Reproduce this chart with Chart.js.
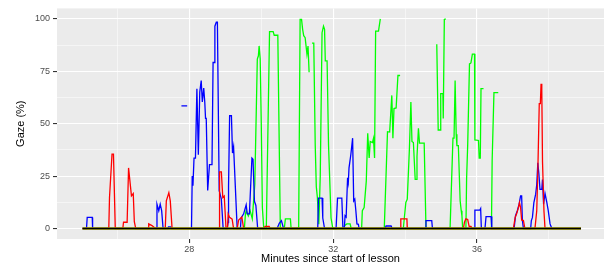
<!DOCTYPE html>
<html>
<head>
<meta charset="utf-8">
<script src="https://cdn.jsdelivr.net/npm/chart.js@4/dist/chart.umd.min.js"></script>
<style>
  body { margin: 0; background: #fff; }
</style>
</head>
<body>
<canvas id="gazechart" width="604" height="269"></canvas>
<script>
// minutes / gaze % pairs, null = gap in the line
const redGaze = [
  [25.03, 0], [25.76, 0], [25.78, 14.8], [25.85, 35.5], [25.89, 35.5], [25.94, 0],
  [26.15, 0], [26.17, 3], [26.27, 3], [26.31, 28.9], [26.39, 15.6], [26.44, 16.7], [26.47, 3.3], [26.51, 0],
  [26.86, 0], [26.87, 2.2], [26.96, 1.4], [27.06, 0],
  [27.33, 0], [27.36, 13.2], [27.43, 17.1], [27.47, 13.2], [27.52, 0],
  [28.83, 0], [28.84, 27], [28.89, 27], [28.93, 14.8], [28.97, 15.5], [29.02, 0],
  [29.06, 0], [29.08, 6.9], [29.12, 5.3], [29.19, 4.5], [29.23, 0],
  [29.33, 0], [29.37, 4], [29.46, 5.5], [29.51, 0],
  [30.06, 0], [30.11, 1], [30.22, 1], [30.25, 0],
  [33.86, 0], [33.88, 4.6], [34.05, 4.6], [34.06, 0],
  [35.62, 0], [35.65, 3], [35.69, 4.6], [35.74, 4.3], [35.78, 1], [35.83, 1], [35.87, 0],
  [37.01, 0], [37.06, 5.3], [37.10, 7], [37.15, 10], [37.18, 12.4], [37.21, 10], [37.24, 4.1], [37.29, 3.8], [37.33, 0],
  [37.61, 0], [37.66, 8.5], [37.69, 27.4], [37.73, 59.6], [37.76, 59.6], [37.78, 69], [37.80, 66], [37.82, 32], [37.86, 8.5], [37.89, 0],
  [38.89, 0]
];
const blueGaze = [
  [25.03, 0], [25.14, 0], [25.16, 5.3], [25.30, 5.3], [25.31, 0],
  [27.08, 0], [27.10, 11.6], [27.15, 8.5], [27.19, 11.6], [27.23, 8.5], [27.27, 0],
  [27.40, 0], [27.42, 0.8], [27.48, 0.8], [27.50, 0], [27.60, null],
  [27.78, 58.5], [27.94, 58.5], [28.00, null],
  [28.06, 0], [28.08, 25], [28.10, 20.4], [28.13, 33.6], [28.17, 33.6], [28.21, 66.7], [28.25, 35.2],
  [28.29, 65.1], [28.33, 70.6], [28.36, 60.4], [28.40, 67], [28.43, 60], [28.45, 52.5], [28.47, 52.5],
  [28.51, 18.2], [28.56, 30.5], [28.63, 30.5], [28.66, 79.2], [28.69, 79.2], [28.71, 96.5], [28.75, 98.4],
  [28.78, 98.4], [28.83, 18], [28.89, 14], [28.94, 0],
  [29.05, 0], [29.08, 3], [29.09, 20], [29.12, 53.8], [29.17, 53.8], [29.20, 36], [29.23, 39], [29.33, 0],
  [29.42, 0], [29.44, 5], [29.51, 7], [29.58, 11.3], [29.61, 7], [29.67, 7], [29.74, 33.6], [29.77, 33],
  [29.81, 13], [29.85, 11], [29.90, 0],
  [30.44, 0], [30.50, 2.5], [30.56, 3.8], [30.62, 0],
  [31.57, 0], [31.59, 14.5], [31.69, 14.5], [31.71, 5], [31.76, 0],
  [32.08, 0], [32.12, 14.5], [32.24, 14.5], [32.27, 0],
  [32.31, 0], [32.33, 6.1], [32.36, 5.5], [32.40, 24.2], [32.42, 22], [32.44, 28.9], [32.49, 35.2],
  [32.54, 43.1], [32.57, 13.2], [32.60, 14], [32.63, 8.5], [32.66, 2.2], [32.70, 2], [32.72, 0],
  [33.44, 0], [33.47, 1.2], [33.61, 1.2], [33.64, 0],
  [34.56, 0], [34.58, 3.8], [34.74, 3.8], [34.76, 0],
  [35.93, 0], [35.94, 8.8], [36.08, 8.8], [36.10, 9.5], [36.12, 0],
  [36.22, 0], [36.25, 5.7], [36.39, 5.7], [36.41, 0],
  [37.03, 0], [37.07, 6.1], [37.12, 8.5], [37.17, 11.6], [37.21, 15.6], [37.24, 15.6], [37.26, 3.8], [37.29, 0],
  [37.49, 0], [37.51, 3.8], [37.54, 5.3], [37.58, 12.4], [37.63, 16.4], [37.66, 21], [37.69, 31.3],
  [37.72, 25.8], [37.75, 18.7], [37.80, 18.7], [37.82, 23.4], [37.85, 11.6], [37.89, 16.7], [37.94, 12.5],
  [37.98, 8.5], [38.03, 2.2], [38.08, 0],
  [38.89, 0]
];
const greenGaze = [
  [29.53, 0], [29.56, 7], [29.58, 8.5], [29.64, 6], [29.69, 8.5], [29.75, 4.6], [29.82, 21], [29.89, 80.8],
  [29.92, 82.4], [29.94, 87.1], [29.97, 81], [30.00, 50], [30.03, 10], [30.07, 0],
  [30.14, 0], [30.23, 93.9], [30.33, 93.9], [30.36, 92.2], [30.46, 92.2], [30.53, 0],
  [30.64, 0], [30.67, 4.6], [30.81, 4.6], [30.83, 0],
  [31.04, 0], [31.08, 99.7], [31.12, 99.7], [31.15, 95], [31.18, 92], [31.22, 91], [31.27, 83.2],
  [31.30, 87], [31.33, 74.5], [31.37, null],
  [31.41, 88.4], [31.46, 88.4], [31.50, 40], [31.53, 20], [31.56, 14.8], [31.60, 2], [31.64, 25],
  [31.69, 93.4], [31.73, 96.5], [31.76, 95], [31.78, 80], [31.83, 80], [31.87, 40], [31.94, 5], [31.99, 0],
  [32.28, 0], [32.32, 1.5], [32.38, 2.2], [32.47, 2.2], [32.50, 0],
  [32.79, 0], [32.81, 8.5], [32.86, 10], [32.92, 22.6], [32.96, 45.4], [33.00, 33.6], [33.03, 41.5],
  [33.09, 41], [33.12, 43], [33.15, 33.6], [33.18, 94.2], [33.26, 94.2], [33.31, 100], [33.37, null],
  [33.42, 0], [33.51, 46.2], [33.57, 46], [33.63, 63.5], [33.66, 43.1], [33.69, 57.2], [33.75, 57.5],
  [33.80, 73], [33.86, 73], [33.90, null],
  [33.95, 0], [34.02, 12.4], [34.06, 14], [34.12, 38.4], [34.16, 60.4], [34.19, 41.5], [34.23, 41],
  [34.28, 23.4], [34.31, 23.4], [34.33, 34.4], [34.37, 47.8], [34.40, 40.7], [34.53, 40.7], [34.58, 0], [34.70, null],
  [34.88, 87.9], [34.92, 47], [34.97, 47], [34.99, 64.3], [35.05, 64.3], [35.06, 52.5], [35.09, 99.7],
  [35.13, 100], [35.20, null],
  [35.25, 0], [35.33, 43.1], [35.36, 43.1], [35.39, 70.6], [35.42, 45], [35.44, 39.5], [35.48, 39.5],
  [35.53, 13.2], [35.56, 8.5], [35.58, 6], [35.60, 0],
  [35.69, 0], [35.71, 24.2], [35.74, 40], [35.79, 78.5], [35.83, 79], [35.87, 83.2], [35.93, 83.2],
  [35.94, 42.3], [36.04, 42], [36.06, 33.6], [36.09, 33.6], [36.11, 66.7], [36.18, 66.7], [36.30, null],
  [36.40, 0], [36.42, 32.4], [36.47, 64.8], [36.59, 64.8]
];
const blackGaze = [[25.03, 0], [38.89, 0]];
const oliveGaze = [[25.03, 0], [38.89, 0]];

const minuteTicks = [26, 28, 30, 32, 34, 36, 38];
const minuteLabels = [28, 32, 36];
const gazeTicks = [0, 12.5, 25, 37.5, 50, 62.5, 75, 87.5, 100];
const gazeLabels = [0, 25, 50, 75, 100];

const panelBg = {
  id: "panelBg",
  beforeDraw: function(chart) {
    "use strict";
    const ctx = chart.ctx;
    const a = chart.chartArea;
    ctx.save();
    ctx.fillStyle = "#FFFFFF";
    ctx.fillRect(0, 0, chart.width, chart.height);
    ctx.fillStyle = "#EBEBEB";
    ctx.fillRect(a.left, a.top, a.right - a.left, a.bottom - a.top);
    ctx.restore();
  }
};

function toPoints(pairs) {
  return pairs.map(function(p) {
    return { x: p[0], y: p[1] };
  });
}

function line(pairs, colour, width) {
  return {
    data: toPoints(pairs),
    borderColor: colour,
    borderWidth: width,
    pointRadius: 0,
    tension: 0,
    spanGaps: false,
    fill: false
  };
}

const font = "'Liberation Sans', Arial, Helvetica, sans-serif";

function gridOpts(majors) {
  return {
    color: "#FFFFFF",
    lineWidth: function(c) {
      return c.tick && majors.includes(c.tick.value) ? 1.1 : 0.5;
    },
    tickColor: function(c) {
      return c.tick && majors.includes(c.tick.value) ? "#333333" : "rgba(0,0,0,0)";
    },
    tickWidth: 1.1,
    tickLength: 4,
    drawTicks: true
  };
}

const config = {
  type: "line",
  data: {
    datasets: [
      line(blackGaze, "#000000", 1.3),
      line(oliveGaze, "#A8B400", 2.4),
      line(redGaze, "#FF0000", 1.3),
      line(blueGaze, "#0000FF", 1.3),
      line(greenGaze, "#00FF00", 1.3)
    ]
  },
  options: {
    responsive: false,
    animation: false,
    events: [],
    layout: { padding: { top: 6, right: 0, left: 0, bottom: 0 } },
    plugins: {
      legend: { display: false },
      tooltip: { enabled: false }
    },
    scales: {
      x: {
        type: "linear",
        min: 24.32,
        max: 39.53,
        afterBuildTicks: function(scale) {
          scale.ticks = minuteTicks.map(function(v) { return { value: v }; });
        },
        afterFit: function(scale) {
          scale.height = 30;
        },
        ticks: {
          autoSkip: false,
          maxRotation: 0,
          padding: 1,
          color: "#4D4D4D",
          font: { family: font, size: 9 },
          callback: function(v) {
            return minuteLabels.includes(v) ? String(v) : "";
          }
        },
        grid: gridOpts(minuteLabels),
        border: { display: false },
        title: {
          display: true,
          text: "Minutes since start of lesson",
          color: "#000000",
          font: { family: font, size: 11 },
          padding: { top: 0, bottom: 3 }
        }
      },
      y: {
        type: "linear",
        min: -5,
        max: 105,
        afterBuildTicks: function(scale) {
          scale.ticks = gazeTicks.map(function(v) { return { value: v }; });
        },
        afterFit: function(scale) {
          scale.width = 57;
        },
        ticks: {
          autoSkip: false,
          padding: 3,
          color: "#4D4D4D",
          font: { family: font, size: 9 },
          callback: function(v) {
            return gazeLabels.includes(v) ? String(v) : "";
          }
        },
        grid: gridOpts(gazeLabels),
        border: { display: false },
        title: {
          display: true,
          text: "Gaze (%)",
          color: "#000000",
          font: { family: font, size: 11 },
          padding: { top: 14, bottom: 0 }
        }
      }
    }
  },
  plugins: [panelBg]
};

let gazechart = new Chart(document.getElementById("gazechart"), config);
</script>
</body>
</html>
